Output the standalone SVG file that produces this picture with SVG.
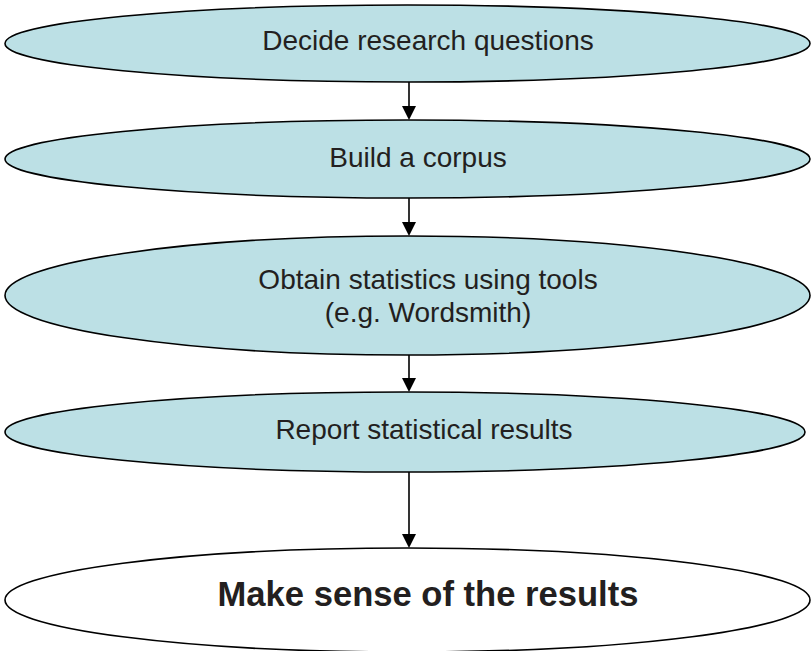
<svg xmlns="http://www.w3.org/2000/svg" width="811" height="651" viewBox="0 0 811 651">
  <style>
    .step { fill: #bce0e5; stroke: #000; stroke-width: 1.6; }
    .final { fill: #fff; stroke: #000; stroke-width: 1.6; }
    .label { font-family: "Liberation Sans", Arial, sans-serif; font-size: 28px; fill: #231f20; text-anchor: middle; }
    .bold { font-family: "Liberation Sans", Arial, sans-serif; font-size: 34.6px; font-weight: bold; fill: #231f20; text-anchor: middle; }
    .link { stroke: #000; stroke-width: 1.6; }
    .head { fill: #000; }
  </style>

  <g id="connectors">
    <line class="link" x1="409" y1="82" x2="409" y2="107"/>
    <path class="head" d="M402,106 L416,106 L409,120 Z"/>
    <line class="link" x1="409" y1="198" x2="409" y2="223"/>
    <path class="head" d="M402,222 L416,222 L409,236 Z"/>
    <line class="link" x1="409" y1="355" x2="409" y2="379"/>
    <path class="head" d="M402,378 L416,378 L409,392 Z"/>
    <line class="link" x1="409" y1="472" x2="409" y2="535"/>
    <path class="head" d="M402,534 L416,534 L409,548 Z"/>
  </g>

  <g id="decide">
    <ellipse class="step" cx="407.5" cy="43.5" rx="402.5" ry="38.5"/>
    <text class="label" x="428" y="50">Decide research questions</text>
  </g>

  <g id="build">
    <ellipse class="step" cx="407.5" cy="159" rx="402.5" ry="39"/>
    <text class="label" x="418" y="167">Build a corpus</text>
  </g>

  <g id="obtain">
    <ellipse class="step" cx="407.5" cy="295.5" rx="402.5" ry="59.5"/>
    <text class="label" x="428" y="289">Obtain statistics using tools</text>
    <text class="label" x="428" y="322">(e.g. Wordsmith)</text>
  </g>

  <g id="report">
    <ellipse class="step" cx="405" cy="432" rx="400" ry="40"/>
    <text class="label" x="424" y="439">Report statistical results</text>
  </g>

  <g id="make-sense">
    <ellipse class="final" cx="407.5" cy="600" rx="402.5" ry="52"/>
    <text class="bold" x="428" y="606">Make sense of the results</text>
  </g>
</svg>
